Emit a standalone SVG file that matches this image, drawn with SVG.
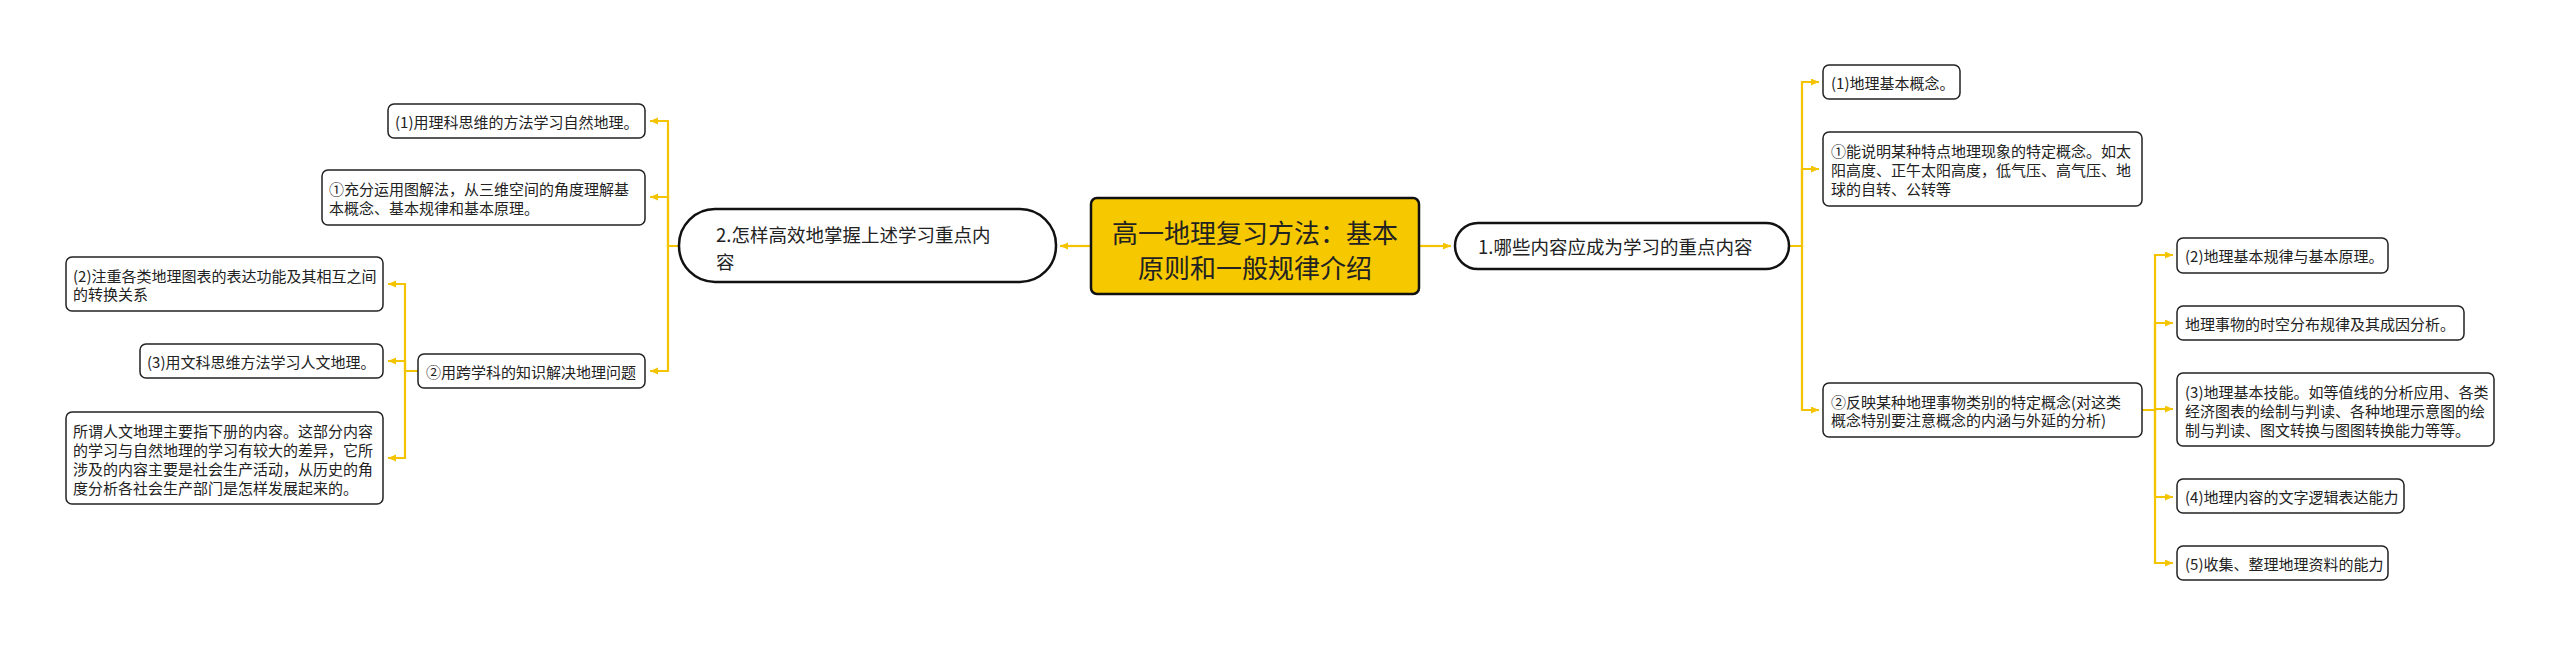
<svg xmlns="http://www.w3.org/2000/svg" width="2560" height="646" viewBox="0 0 2560 646">
<defs>
<style>
.bg{fill:#ffffff}
.leaf{fill:#ffffff;stroke:#222222;stroke-width:1.5}
.main{fill:#ffffff;stroke:#111111;stroke-width:2.5}
.root{fill:#f5c800;stroke:#111111;stroke-width:2.5}
.t{font-family:"Noto Sans CJK SC","Noto Sans",sans-serif;fill:#222222;dominant-baseline:central}
.ts{font-size:15px}
.tm{font-size:18.5px}
.tr{font-size:26px;text-anchor:middle}
.c{fill:none;stroke:#f5c400;stroke-width:2.2;marker-end:url(#arr)}
.cn{fill:none;stroke:#f5c400;stroke-width:2.2}
</style>
<marker id="arr" markerUnits="userSpaceOnUse" markerWidth="10" markerHeight="8" refX="8" refY="3.5" orient="auto">
<path d="M0,0 L8,3.5 L0,7 z" fill="#f5c400"/>
</marker>
</defs>
<rect class="bg" x="0" y="0" width="2560" height="646"/>

<g id="connectors">
<path class="c" d="M1419,246 H1451"/>
<path class="c" d="M1091,246 H1060"/>
<path class="c" d="M679,246 H668 V121 H650"/>
<path class="c" d="M679,246 H668 V197 H650"/>
<path class="c" d="M679,246 H668 V371 H650"/>
<path class="c" d="M418,371 H405 V284 H388"/>
<path class="c" d="M418,371 H405 V361 H388"/>
<path class="c" d="M418,371 H405 V458 H388"/>
<path class="c" d="M1789,246 H1802 V82 H1819"/>
<path class="c" d="M1789,246 H1802 V169 H1819"/>
<path class="c" d="M1789,246 H1802 V410 H1819"/>
<path class="c" d="M2142,410 H2155 V255 H2173"/>
<path class="c" d="M2142,410 H2155 V323 H2173"/>
<path class="c" d="M2142,410 H2155 V409 H2173"/>
<path class="c" d="M2142,410 H2155 V497 H2173"/>
<path class="c" d="M2142,410 H2155 V563 H2173"/>
</g>

<g id="root">
<rect class="root" x="1091" y="198" width="328" height="96" rx="6"/>
<text class="t tr" x="1255" y="231">高一地理复习方法：基本</text>
<text class="t tr" x="1255" y="266">原则和一般规律介绍</text>
</g>

<g id="n1">
<rect class="main" x="1455" y="223" width="334" height="46" rx="23"/>
<text class="t tm" x="1478" y="246">1.哪些内容应成为学习的重点内容</text>
</g>

<g id="n2">
<rect class="main" x="679" y="209" width="377" height="73" rx="36"/>
<text class="t tm" x="716" y="234">2.怎样高效地掌握上述学习重点内</text>
<text class="t tm" x="716" y="261">容</text>
</g>

<g id="l1">
<rect class="leaf" x="388" y="104" width="257" height="34" rx="6"/>
<text class="t ts" x="395" y="121">(1)用理科思维的方法学习自然地理。</text>
</g>

<g id="l2">
<rect class="leaf" x="322" y="170" width="323" height="55" rx="6"/>
<text class="t ts" x="329" y="188">①充分运用图解法，从三维空间的角度理解基</text>
<text class="t ts" x="329" y="207">本概念、基本规律和基本原理。</text>
</g>

<g id="l3">
<rect class="leaf" x="418" y="354" width="227" height="34" rx="6"/>
<text class="t ts" x="426" y="371">②用跨学科的知识解决地理问题</text>
</g>

<g id="l3a">
<rect class="leaf" x="66" y="257" width="317" height="54" rx="6"/>
<text class="t ts" x="73" y="275">(2)注重各类地理图表的表达功能及其相互之间</text>
<text class="t ts" x="73" y="293">的转换关系</text>
</g>

<g id="l3b">
<rect class="leaf" x="140" y="344" width="243" height="34" rx="6"/>
<text class="t ts" x="147" y="361">(3)用文科思维方法学习人文地理。</text>
</g>

<g id="l3c">
<rect class="leaf" x="66" y="412" width="317" height="92" rx="6"/>
<text class="t ts" x="73" y="430">所谓人文地理主要指下册的内容。这部分内容</text>
<text class="t ts" x="73" y="449">的学习与自然地理的学习有较大的差异，它所</text>
<text class="t ts" x="73" y="468">涉及的内容主要是社会生产活动，从历史的角</text>
<text class="t ts" x="73" y="487">度分析各社会生产部门是怎样发展起来的。</text>
</g>

<g id="r1">
<rect class="leaf" x="1823" y="65" width="137" height="34" rx="6"/>
<text class="t ts" x="1831" y="82">(1)地理基本概念。</text>
</g>

<g id="r2">
<rect class="leaf" x="1823" y="132" width="319" height="74" rx="6"/>
<text class="t ts" x="1831" y="150">①能说明某种特点地理现象的特定概念。如太</text>
<text class="t ts" x="1831" y="169">阳高度、正午太阳高度，低气压、高气压、地</text>
<text class="t ts" x="1831" y="188">球的自转、公转等</text>
</g>

<g id="r3">
<rect class="leaf" x="1823" y="383" width="319" height="54" rx="6"/>
<text class="t ts" x="1831" y="401">②反映某种地理事物类别的特定概念(对这类</text>
<text class="t ts" x="1831" y="419">概念特别要注意概念的内涵与外延的分析)</text>
</g>

<g id="r3a">
<rect class="leaf" x="2177" y="238" width="211" height="35" rx="6"/>
<text class="t ts" x="2185" y="255">(2)地理基本规律与基本原理。</text>
</g>

<g id="r3b">
<rect class="leaf" x="2177" y="306" width="287" height="34" rx="6"/>
<text class="t ts" x="2185" y="323">地理事物的时空分布规律及其成因分析。</text>
</g>

<g id="r3c">
<rect class="leaf" x="2177" y="373" width="317" height="73" rx="6"/>
<text class="t ts" x="2185" y="391">(3)地理基本技能。如等值线的分析应用、各类</text>
<text class="t ts" x="2185" y="410">经济图表的绘制与判读、各种地理示意图的绘</text>
<text class="t ts" x="2185" y="429">制与判读、图文转换与图图转换能力等等。</text>
</g>

<g id="r3d">
<rect class="leaf" x="2177" y="479" width="227" height="34" rx="6"/>
<text class="t ts" x="2185" y="496">(4)地理内容的文字逻辑表达能力</text>
</g>

<g id="r3e">
<rect class="leaf" x="2177" y="546" width="211" height="34" rx="6"/>
<text class="t ts" x="2185" y="563">(5)收集、整理地理资料的能力</text>
</g>
</svg>
